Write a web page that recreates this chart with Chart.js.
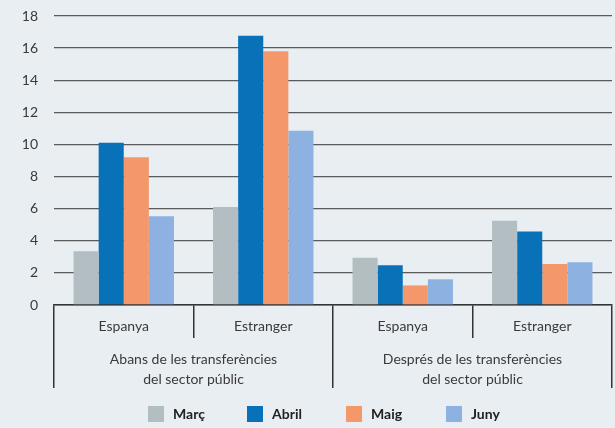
<!DOCTYPE html>
<html>
<head>
<meta charset="utf-8">
<script src="https://cdn.jsdelivr.net/npm/chart.js@4/dist/chart.umd.min.js"></script>
<style>
  html, body { margin: 0; padding: 0; background: #e9eef2; }
  #wrap { position: relative; width: 615px; height: 428px; }
  canvas { position: absolute; left: 0; top: 0; }
  #legend { position: absolute; left: 0; top: 405px; width: 615px; height: 20px; font-family: Lato, sans-serif; font-weight: 700; font-size: 14px; color: #222; }
  .item { position: absolute; top: 0; display: flex; align-items: center; }
  .box { width: 16px; height: 16px; margin-right: 9px; }
</style>
</head>
<body>
<div id="wrap">
  <canvas id="c" width="615" height="428"></canvas>
  <div id="legend"></div>
</div>
<script>
const categories = ['Espanya', 'Estranger', 'Espanya', 'Estranger'];
const groups = [['Abans de les transferències', 'del sector públic'], ['Després de les transferències', 'del sector públic']];
const seriesNames = ['Març', 'Abril', 'Maig', 'Juny'];
const marc  = [3.35, 6.1, 2.95, 5.25];
const abril = [10.1, 16.77, 2.47, 4.58];
const maig  = [9.2, 15.8, 1.22, 2.55];
const juny  = [5.53, 10.85, 1.6, 2.67];
const yTicks = [0, 2, 4, 6, 8, 10, 12, 14, 16, 18];
const colors = ['#b3bec3', '#0971b8', '#f4986c', '#8db2e1'];

const seriesValues = [marc, abril, maig, juny];
const datasets = seriesNames.map((n, i) => ({
  label: n,
  data: seriesValues[i],
  backgroundColor: colors[i],
  borderWidth: 0,
  categoryPercentage: 0.72,
  barPercentage: 1.0,
  xAxisID: 'x',
  yAxisID: 'y'
}));

const font = { family: 'Lato, sans-serif', size: 14 };

new Chart(document.getElementById('c'), {
  type: 'bar',
  data: { labels: categories, datasets },
  options: {
    responsive: false,
    animation: false,
    layout: { padding: { left: 0, right: 3, top: 16, bottom: 40 } },
    plugins: { legend: { display: false }, tooltip: { enabled: false } },
    scales: {
      x: {
        type: 'category',
        position: 'bottom',
        offset: true,
        grid: { offset: true, drawOnChartArea: false, drawTicks: true, tickLength: 33, color: '#333', lineWidth: 1.5 },
        border: { display: true, color: '#333', width: 1.5 },
        ticks: { font, color: '#3a3a3a', padding: -20, maxRotation: 0, autoSkip: false },
        afterFit: (s) => { s.height = 33; }
      },
      x2: {
        type: 'category',
        position: 'bottom',
        labels: groups,
        offset: true,
        grid: { offset: true, drawOnChartArea: false, drawTicks: true, tickLength: 50, color: '#333', lineWidth: 1.5 },
        border: { display: false },
        ticks: { font: { family: 'Lato, sans-serif', size: 14, lineHeight: 1.4 }, color: '#3a3a3a', padding: -38, maxRotation: 0, autoSkip: false },
        afterFit: (s) => { s.height = 50; }
      },
      y: {
        min: 0, max: 18,
        afterBuildTicks: (s) => { s.ticks = yTicks.map(v => ({ value: v })); },
        grid: { drawTicks: false, color: '#5a5a5a', lineWidth: 1.3 },
        border: { display: false },
        ticks: { font, color: '#3a3a3a', padding: 16 },
        afterFit: (s) => { s.width = 54; s.paddingTop = 0; s.paddingBottom = 0; }
      }
    }
  }
});

const legend = document.getElementById('legend');
const lx = [148, 247, 346, 446];
seriesNames.forEach((n, i) => {
  const it = document.createElement('div');
  it.className = 'item';
  it.style.left = lx[i] + 'px';
  const b = document.createElement('div');
  b.className = 'box';
  b.style.background = colors[i];
  const t = document.createElement('span');
  t.textContent = n;
  it.appendChild(b); it.appendChild(t);
  legend.appendChild(it);
});
</script>
</body>
</html>
